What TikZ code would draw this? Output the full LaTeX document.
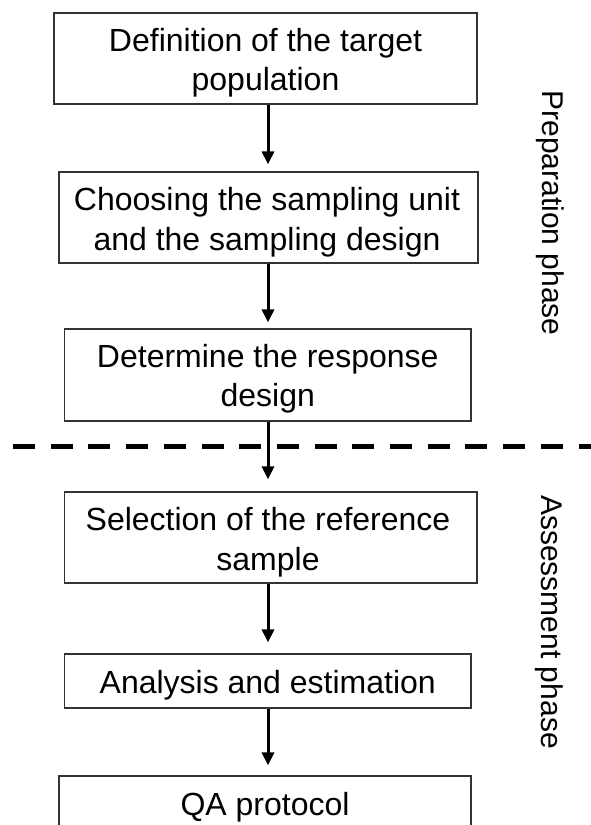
\documentclass[tikz,border=0pt]{standalone}
\usepackage{fontspec}
\setmainfont{Liberation Sans}
\usetikzlibrary{arrows.meta}
\begin{document}
\begin{tikzpicture}[x=1pt,y=-1pt,
  stepbox/.style={draw=black!80, line width=1.2pt, inner sep=0pt},
  steptext/.style={anchor=base, inner sep=0pt, font=\fontsize{32}{40}\selectfont},
  phase/.style={anchor=base, rotate=-90, inner sep=0pt, font=\fontsize{30}{36}\selectfont},
  flow/.style={line width=3pt, -{Triangle[width=12pt,length=13pt]}},
  divider/.style={line width=5pt, dash pattern=on 22pt off 15.7pt}]
\clip (0,0) rectangle (591,825);

% process boxes
\node[stepbox, minimum width=423pt, minimum height=91pt] (b1) at (265.5,58.5) {};
\node[stepbox, minimum width=419pt, minimum height=91pt] (b2) at (268.5,217.5) {};
\node[stepbox, minimum width=406.5pt, minimum height=92pt] (b3) at (267.75,375) {};
\node[stepbox, minimum width=412.5pt, minimum height=91pt] (b4) at (270.75,537.5) {};
\node[stepbox, minimum width=406.5pt, minimum height=54pt] (b5) at (267.75,681) {};
\node[stepbox, minimum width=412pt, minimum height=56pt] (b6) at (265,804) {};

% box captions
\node[steptext] (t1a) at (265.5,51) {Definition of the target};
\node[steptext] (t1b) at (265.5,90) {population};
\node[steptext] (t2a) at (267,210) {Choosing the sampling unit};
\node[steptext] (t2b) at (267,250) {and the sampling design};
\node[steptext] (t3a) at (267.75,367) {Determine the response};
\node[steptext] (t3b) at (267.75,406) {design};
\node[steptext] (t4a) at (268,530) {Selection of the reference};
\node[steptext] (t4b) at (268,570) {sample};
\node[steptext] (t5) at (267.75,693) {Analysis and estimation};
\node[steptext] (t6) at (265,815) {QA protocol};

% boundary between the two phases
\coordinate (dl) at (13,446);
\coordinate (dr) at (600,446);
\draw[divider] (dl) -- (dr);

% phase labels
\node[phase] (prep) at (542,213) {Preparation phase};
\node[phase] (assess) at (541,622) {Assessment phase};

% flow arrows
\coordinate (ax) at (268,0);
\draw[flow, shorten >=7pt] (b1.south -| ax) -- (b2.north -| ax);
\draw[flow, shorten >=6pt] (b2.south -| ax) -- (b3.north -| ax);
\draw[flow, shorten >=12pt] (b3.south -| ax) -- (b4.north -| ax);
\draw[flow, shorten >=11pt] (b4.south -| ax) -- (b5.north -| ax);
\draw[flow, shorten >=10pt] (b5.south -| ax) -- (b6.north -| ax);
\end{tikzpicture}
\end{document}
